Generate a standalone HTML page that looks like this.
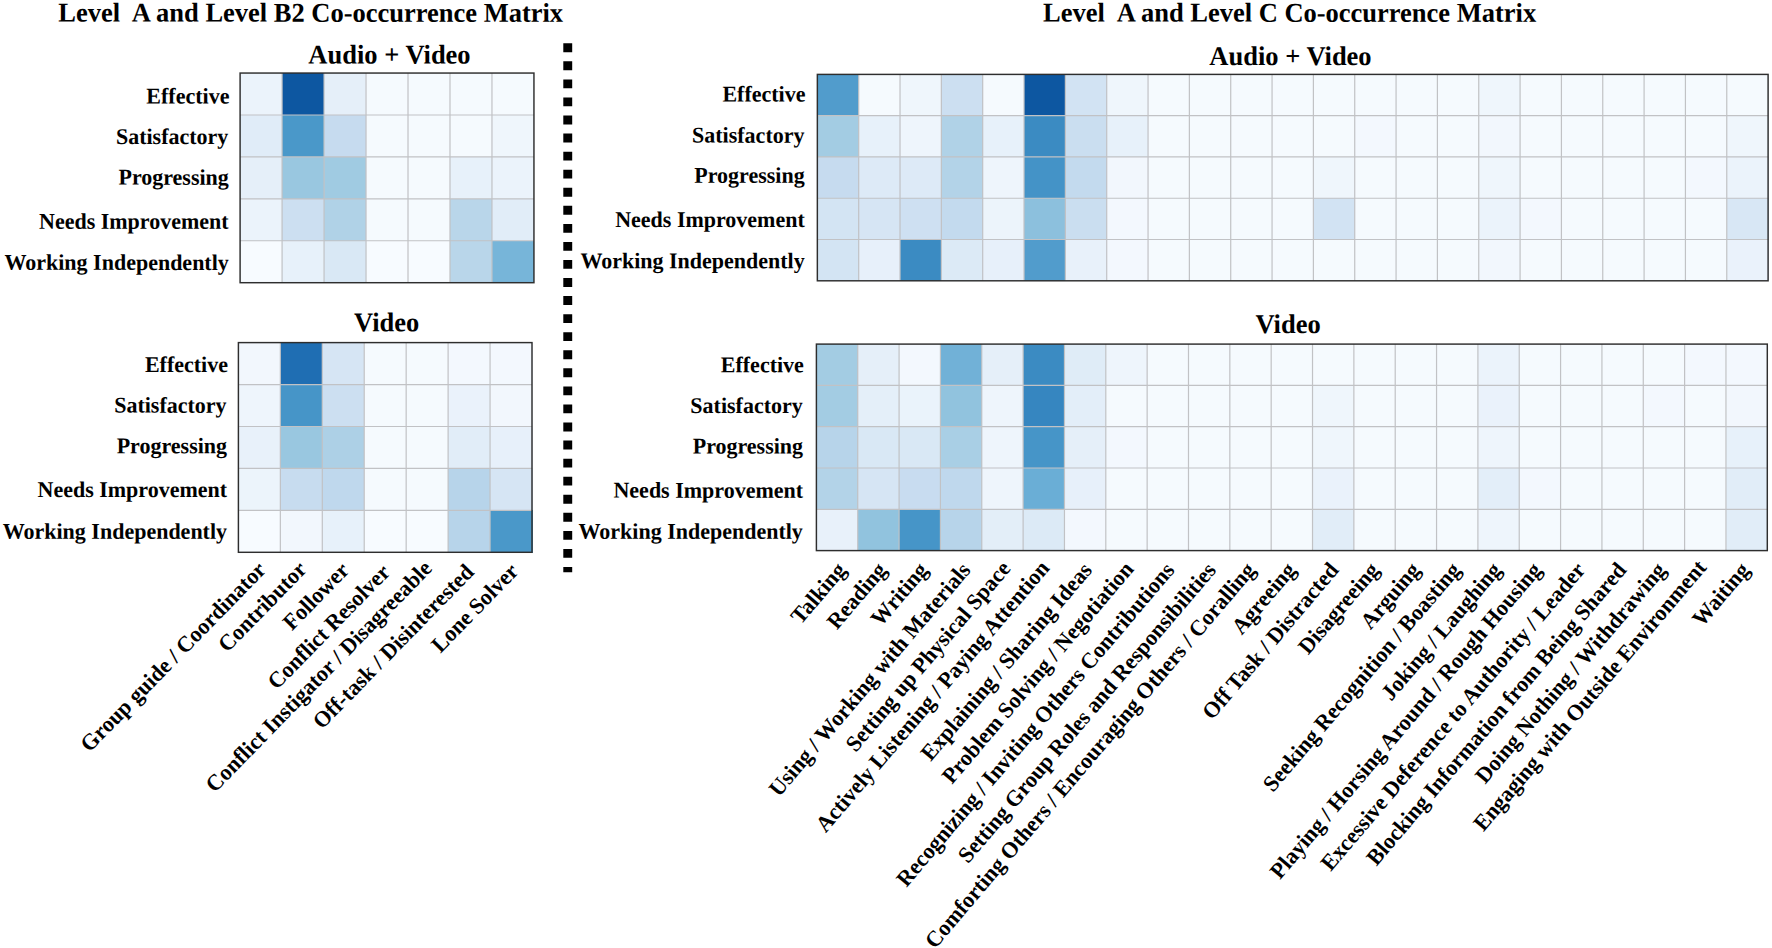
<!DOCTYPE html>
<html lang="en"><head><meta charset="utf-8"><title>Co-occurrence Matrix</title>
<style>html,body{margin:0;padding:0;background:#fff}body{width:1772px;height:948px;overflow:hidden}svg{display:block}text{font-family:"Liberation Serif",serif;font-weight:bold;fill:#000;text-rendering:geometricPrecision}</style></head><body>
<svg width="1772" height="948" viewBox="0 0 1772 948">
<rect width="1772" height="948" fill="#fff"/>
<text transform="matrix(0.9804 0.0006 0 1 58.23 21.50)" font-size="27.03" xml:space="preserve" style="white-space:pre">Level  A and Level B2 Co-occurrence Matrix</text>
<text transform="matrix(0.9804 0.0006 0 1 1043.07 21.50)" font-size="27.03" xml:space="preserve" style="white-space:pre">Level  A and Level C Co-occurrence Matrix</text>
<text transform="matrix(0.9804 0.0006 0 1 308.33 63.50)" font-size="27.03" xml:space="preserve" style="white-space:pre">Audio + Video</text>
<text transform="matrix(0.9804 0.0006 0 1 1209.33 65.00)" font-size="27.03" xml:space="preserve" style="white-space:pre">Audio + Video</text>
<text transform="matrix(0.9804 0.0006 0 1 354.07 331.20)" font-size="27.03" xml:space="preserve" style="white-space:pre">Video</text>
<text transform="matrix(0.9804 0.0006 0 1 1255.42 332.90)" font-size="27.03" xml:space="preserve" style="white-space:pre">Video</text>
<text transform="matrix(0.9804 0.0006 0 1 146.34 103.40)" font-size="22.44" xml:space="preserve" style="white-space:pre">Effective</text>
<text transform="matrix(0.9804 0.0006 0 1 115.91 144.00)" font-size="22.44" xml:space="preserve" style="white-space:pre">Satisfactory</text>
<text transform="matrix(0.9804 0.0006 0 1 118.44 184.60)" font-size="22.44" xml:space="preserve" style="white-space:pre">Progressing</text>
<text transform="matrix(0.9804 0.0006 0 1 39.02 228.70)" font-size="22.44" xml:space="preserve" style="white-space:pre">Needs Improvement</text>
<text transform="matrix(0.9804 0.0006 0 1 4.48 269.80)" font-size="22.44" xml:space="preserve" style="white-space:pre">Working Independently</text>
<text transform="matrix(0.9804 0.0006 0 1 144.94 372.00)" font-size="22.44" xml:space="preserve" style="white-space:pre">Effective</text>
<text transform="matrix(0.9804 0.0006 0 1 114.16 412.60)" font-size="22.44" xml:space="preserve" style="white-space:pre">Satisfactory</text>
<text transform="matrix(0.9804 0.0006 0 1 116.64 453.20)" font-size="22.44" xml:space="preserve" style="white-space:pre">Progressing</text>
<text transform="matrix(0.9804 0.0006 0 1 37.52 496.90)" font-size="22.44" xml:space="preserve" style="white-space:pre">Needs Improvement</text>
<text transform="matrix(0.9804 0.0006 0 1 2.73 538.70)" font-size="22.44" xml:space="preserve" style="white-space:pre">Working Independently</text>
<text transform="matrix(0.9804 0.0006 0 1 722.39 101.50)" font-size="22.44" xml:space="preserve" style="white-space:pre">Effective</text>
<text transform="matrix(0.9804 0.0006 0 1 692.06 142.60)" font-size="22.44" xml:space="preserve" style="white-space:pre">Satisfactory</text>
<text transform="matrix(0.9804 0.0006 0 1 694.29 182.80)" font-size="22.44" xml:space="preserve" style="white-space:pre">Progressing</text>
<text transform="matrix(0.9804 0.0006 0 1 615.17 226.90)" font-size="22.44" xml:space="preserve" style="white-space:pre">Needs Improvement</text>
<text transform="matrix(0.9804 0.0006 0 1 580.38 268.20)" font-size="22.44" xml:space="preserve" style="white-space:pre">Working Independently</text>
<text transform="matrix(0.9804 0.0006 0 1 720.79 372.20)" font-size="22.44" xml:space="preserve" style="white-space:pre">Effective</text>
<text transform="matrix(0.9804 0.0006 0 1 690.36 412.90)" font-size="22.44" xml:space="preserve" style="white-space:pre">Satisfactory</text>
<text transform="matrix(0.9804 0.0006 0 1 692.69 453.50)" font-size="22.44" xml:space="preserve" style="white-space:pre">Progressing</text>
<text transform="matrix(0.9804 0.0006 0 1 613.47 497.60)" font-size="22.44" xml:space="preserve" style="white-space:pre">Needs Improvement</text>
<text transform="matrix(0.9804 0.0006 0 1 578.53 538.70)" font-size="22.44" xml:space="preserve" style="white-space:pre">Working Independently</text>
<path d="M567.75 43.28V572.2" stroke="#000" stroke-width="8.9" stroke-dasharray="8.87 9.19" fill="none"/>
<g shape-rendering="crispEdges">
<rect x="240.10" y="73.05" width="42.48" height="42.43" fill="#ebf3fb"/>
<rect x="282.08" y="73.05" width="42.48" height="42.43" fill="#0d57a1"/>
<rect x="324.06" y="73.05" width="42.48" height="42.43" fill="#e5eff9"/>
<rect x="366.04" y="73.05" width="42.48" height="42.43" fill="#f5fafe"/>
<rect x="408.01" y="73.05" width="42.48" height="42.43" fill="#f5fafe"/>
<rect x="449.99" y="73.05" width="42.48" height="42.43" fill="#f5fafe"/>
<rect x="491.97" y="73.05" width="42.48" height="42.43" fill="#f5fafe"/>
<rect x="240.10" y="114.98" width="42.48" height="42.43" fill="#e0ecf8"/>
<rect x="282.08" y="114.98" width="42.48" height="42.43" fill="#4a98c9"/>
<rect x="324.06" y="114.98" width="42.48" height="42.43" fill="#c6dbef"/>
<rect x="366.04" y="114.98" width="42.48" height="42.43" fill="#f5fafe"/>
<rect x="408.01" y="114.98" width="42.48" height="42.43" fill="#f5fafe"/>
<rect x="449.99" y="114.98" width="42.48" height="42.43" fill="#f5fafe"/>
<rect x="491.97" y="114.98" width="42.48" height="42.43" fill="#eff6fc"/>
<rect x="240.10" y="156.91" width="42.48" height="42.43" fill="#e5eff9"/>
<rect x="282.08" y="156.91" width="42.48" height="42.43" fill="#99c7e0"/>
<rect x="324.06" y="156.91" width="42.48" height="42.43" fill="#a0cbe2"/>
<rect x="366.04" y="156.91" width="42.48" height="42.43" fill="#f5fafe"/>
<rect x="408.01" y="156.91" width="42.48" height="42.43" fill="#f5fafe"/>
<rect x="449.99" y="156.91" width="42.48" height="42.43" fill="#e7f1fa"/>
<rect x="491.97" y="156.91" width="42.48" height="42.43" fill="#ebf3fb"/>
<rect x="240.10" y="198.84" width="42.48" height="42.43" fill="#ebf3fb"/>
<rect x="282.08" y="198.84" width="42.48" height="42.43" fill="#ccdff1"/>
<rect x="324.06" y="198.84" width="42.48" height="42.43" fill="#b0d2e7"/>
<rect x="366.04" y="198.84" width="42.48" height="42.43" fill="#f5fafe"/>
<rect x="408.01" y="198.84" width="42.48" height="42.43" fill="#f5fafe"/>
<rect x="449.99" y="198.84" width="42.48" height="42.43" fill="#b9d6ea"/>
<rect x="491.97" y="198.84" width="42.48" height="42.43" fill="#e1edf8"/>
<rect x="240.10" y="240.77" width="42.48" height="42.43" fill="#f7fbff"/>
<rect x="282.08" y="240.77" width="42.48" height="42.43" fill="#e7f1fa"/>
<rect x="324.06" y="240.77" width="42.48" height="42.43" fill="#d9e8f5"/>
<rect x="366.04" y="240.77" width="42.48" height="42.43" fill="#f7fbff"/>
<rect x="408.01" y="240.77" width="42.48" height="42.43" fill="#f7fbff"/>
<rect x="449.99" y="240.77" width="42.48" height="42.43" fill="#b9d6ea"/>
<rect x="491.97" y="240.77" width="42.48" height="42.43" fill="#77b5d9"/>
</g>
<path d="M282.08 73.05V282.70M324.06 73.05V282.70M366.04 73.05V282.70M408.01 73.05V282.70M449.99 73.05V282.70M491.97 73.05V282.70M240.10 114.98H533.95M240.10 156.91H533.95M240.10 198.84H533.95M240.10 240.77H533.95" stroke="#c1c2c5" stroke-width="1.2" fill="none"/>
<rect x="240.10" y="73.05" width="293.85" height="209.65" fill="none" stroke="#2e2e2e" stroke-width="1.45"/>
<g shape-rendering="crispEdges">
<rect x="238.40" y="342.60" width="42.44" height="42.44" fill="#f2f7fd"/>
<rect x="280.34" y="342.60" width="42.44" height="42.44" fill="#1f6eb3"/>
<rect x="322.29" y="342.60" width="42.44" height="42.44" fill="#d6e5f4"/>
<rect x="364.23" y="342.60" width="42.44" height="42.44" fill="#f5fafe"/>
<rect x="406.17" y="342.60" width="42.44" height="42.44" fill="#f5fafe"/>
<rect x="448.11" y="342.60" width="42.44" height="42.44" fill="#f3f8fe"/>
<rect x="490.06" y="342.60" width="42.44" height="42.44" fill="#f3f8fe"/>
<rect x="238.40" y="384.54" width="42.44" height="42.44" fill="#eef5fc"/>
<rect x="280.34" y="384.54" width="42.44" height="42.44" fill="#4695c8"/>
<rect x="322.29" y="384.54" width="42.44" height="42.44" fill="#ccdff1"/>
<rect x="364.23" y="384.54" width="42.44" height="42.44" fill="#f5fafe"/>
<rect x="406.17" y="384.54" width="42.44" height="42.44" fill="#f5fafe"/>
<rect x="448.11" y="384.54" width="42.44" height="42.44" fill="#eaf2fb"/>
<rect x="490.06" y="384.54" width="42.44" height="42.44" fill="#f2f7fd"/>
<rect x="238.40" y="426.48" width="42.44" height="42.44" fill="#e8f1fa"/>
<rect x="280.34" y="426.48" width="42.44" height="42.44" fill="#99c7e0"/>
<rect x="322.29" y="426.48" width="42.44" height="42.44" fill="#add0e6"/>
<rect x="364.23" y="426.48" width="42.44" height="42.44" fill="#f5fafe"/>
<rect x="406.17" y="426.48" width="42.44" height="42.44" fill="#f5fafe"/>
<rect x="448.11" y="426.48" width="42.44" height="42.44" fill="#e1edf8"/>
<rect x="490.06" y="426.48" width="42.44" height="42.44" fill="#e7f0fa"/>
<rect x="238.40" y="468.42" width="42.44" height="42.44" fill="#ecf4fb"/>
<rect x="280.34" y="468.42" width="42.44" height="42.44" fill="#c7dcef"/>
<rect x="322.29" y="468.42" width="42.44" height="42.44" fill="#bfd8ed"/>
<rect x="364.23" y="468.42" width="42.44" height="42.44" fill="#f5fafe"/>
<rect x="406.17" y="468.42" width="42.44" height="42.44" fill="#f5fafe"/>
<rect x="448.11" y="468.42" width="42.44" height="42.44" fill="#b7d4ea"/>
<rect x="490.06" y="468.42" width="42.44" height="42.44" fill="#d6e5f4"/>
<rect x="238.40" y="510.36" width="42.44" height="42.44" fill="#f7fbff"/>
<rect x="280.34" y="510.36" width="42.44" height="42.44" fill="#f2f7fd"/>
<rect x="322.29" y="510.36" width="42.44" height="42.44" fill="#e7f1fa"/>
<rect x="364.23" y="510.36" width="42.44" height="42.44" fill="#f7fbff"/>
<rect x="406.17" y="510.36" width="42.44" height="42.44" fill="#f7fbff"/>
<rect x="448.11" y="510.36" width="42.44" height="42.44" fill="#b7d4ea"/>
<rect x="490.06" y="510.36" width="42.44" height="42.44" fill="#4a98c9"/>
</g>
<path d="M280.34 342.60V552.30M322.29 342.60V552.30M364.23 342.60V552.30M406.17 342.60V552.30M448.11 342.60V552.30M490.06 342.60V552.30M238.40 384.54H532.00M238.40 426.48H532.00M238.40 468.42H532.00M238.40 510.36H532.00" stroke="#c1c2c5" stroke-width="1.2" fill="none"/>
<rect x="238.40" y="342.60" width="293.60" height="209.70" fill="none" stroke="#2e2e2e" stroke-width="1.45"/>
<g shape-rendering="crispEdges">
<rect x="817.35" y="74.40" width="41.84" height="41.78" fill="#519ccc"/>
<rect x="858.69" y="74.40" width="41.84" height="41.78" fill="#f5fafe"/>
<rect x="900.02" y="74.40" width="41.84" height="41.78" fill="#eff6fc"/>
<rect x="941.36" y="74.40" width="41.84" height="41.78" fill="#ccdff1"/>
<rect x="982.70" y="74.40" width="41.84" height="41.78" fill="#f5fafe"/>
<rect x="1024.03" y="74.40" width="41.84" height="41.78" fill="#0d57a1"/>
<rect x="1065.37" y="74.40" width="41.84" height="41.78" fill="#d2e3f3"/>
<rect x="1106.71" y="74.40" width="41.84" height="41.78" fill="#eff6fc"/>
<rect x="1148.05" y="74.40" width="41.84" height="41.78" fill="#f5fafe"/>
<rect x="1189.38" y="74.40" width="41.84" height="41.78" fill="#f5fafe"/>
<rect x="1230.72" y="74.40" width="41.84" height="41.78" fill="#f5fafe"/>
<rect x="1272.06" y="74.40" width="41.84" height="41.78" fill="#f5fafe"/>
<rect x="1313.39" y="74.40" width="41.84" height="41.78" fill="#f5fafe"/>
<rect x="1354.73" y="74.40" width="41.84" height="41.78" fill="#f5fafe"/>
<rect x="1396.07" y="74.40" width="41.84" height="41.78" fill="#f5fafe"/>
<rect x="1437.40" y="74.40" width="41.84" height="41.78" fill="#f5fafe"/>
<rect x="1478.74" y="74.40" width="41.84" height="41.78" fill="#eff6fc"/>
<rect x="1520.08" y="74.40" width="41.84" height="41.78" fill="#f5fafe"/>
<rect x="1561.42" y="74.40" width="41.84" height="41.78" fill="#f5fafe"/>
<rect x="1602.75" y="74.40" width="41.84" height="41.78" fill="#f5fafe"/>
<rect x="1644.09" y="74.40" width="41.84" height="41.78" fill="#f5fafe"/>
<rect x="1685.43" y="74.40" width="41.84" height="41.78" fill="#f5fafe"/>
<rect x="1726.76" y="74.40" width="41.84" height="41.78" fill="#f5fafe"/>
<rect x="817.35" y="115.68" width="41.84" height="41.78" fill="#a3cce3"/>
<rect x="858.69" y="115.68" width="41.84" height="41.78" fill="#e7f1fa"/>
<rect x="900.02" y="115.68" width="41.84" height="41.78" fill="#eef5fc"/>
<rect x="941.36" y="115.68" width="41.84" height="41.78" fill="#b0d2e7"/>
<rect x="982.70" y="115.68" width="41.84" height="41.78" fill="#e7f1fa"/>
<rect x="1024.03" y="115.68" width="41.84" height="41.78" fill="#3b8bc2"/>
<rect x="1065.37" y="115.68" width="41.84" height="41.78" fill="#cadef0"/>
<rect x="1106.71" y="115.68" width="41.84" height="41.78" fill="#e7f1fa"/>
<rect x="1148.05" y="115.68" width="41.84" height="41.78" fill="#f5fafe"/>
<rect x="1189.38" y="115.68" width="41.84" height="41.78" fill="#f5fafe"/>
<rect x="1230.72" y="115.68" width="41.84" height="41.78" fill="#f5fafe"/>
<rect x="1272.06" y="115.68" width="41.84" height="41.78" fill="#f5fafe"/>
<rect x="1313.39" y="115.68" width="41.84" height="41.78" fill="#f5fafe"/>
<rect x="1354.73" y="115.68" width="41.84" height="41.78" fill="#f3f8fe"/>
<rect x="1396.07" y="115.68" width="41.84" height="41.78" fill="#f5fafe"/>
<rect x="1437.40" y="115.68" width="41.84" height="41.78" fill="#f5fafe"/>
<rect x="1478.74" y="115.68" width="41.84" height="41.78" fill="#f2f7fd"/>
<rect x="1520.08" y="115.68" width="41.84" height="41.78" fill="#f5fafe"/>
<rect x="1561.42" y="115.68" width="41.84" height="41.78" fill="#f5fafe"/>
<rect x="1602.75" y="115.68" width="41.84" height="41.78" fill="#f5fafe"/>
<rect x="1644.09" y="115.68" width="41.84" height="41.78" fill="#f5fafe"/>
<rect x="1685.43" y="115.68" width="41.84" height="41.78" fill="#f5fafe"/>
<rect x="1726.76" y="115.68" width="41.84" height="41.78" fill="#eff6fc"/>
<rect x="817.35" y="156.96" width="41.84" height="41.78" fill="#c6dbef"/>
<rect x="858.69" y="156.96" width="41.84" height="41.78" fill="#ddeaf7"/>
<rect x="900.02" y="156.96" width="41.84" height="41.78" fill="#ddeaf7"/>
<rect x="941.36" y="156.96" width="41.84" height="41.78" fill="#b3d3e8"/>
<rect x="982.70" y="156.96" width="41.84" height="41.78" fill="#eef5fc"/>
<rect x="1024.03" y="156.96" width="41.84" height="41.78" fill="#4493c7"/>
<rect x="1065.37" y="156.96" width="41.84" height="41.78" fill="#c3daee"/>
<rect x="1106.71" y="156.96" width="41.84" height="41.78" fill="#f2f7fd"/>
<rect x="1148.05" y="156.96" width="41.84" height="41.78" fill="#f5fafe"/>
<rect x="1189.38" y="156.96" width="41.84" height="41.78" fill="#f5fafe"/>
<rect x="1230.72" y="156.96" width="41.84" height="41.78" fill="#f5fafe"/>
<rect x="1272.06" y="156.96" width="41.84" height="41.78" fill="#f5fafe"/>
<rect x="1313.39" y="156.96" width="41.84" height="41.78" fill="#eff6fc"/>
<rect x="1354.73" y="156.96" width="41.84" height="41.78" fill="#f5fafe"/>
<rect x="1396.07" y="156.96" width="41.84" height="41.78" fill="#f5fafe"/>
<rect x="1437.40" y="156.96" width="41.84" height="41.78" fill="#f5fafe"/>
<rect x="1478.74" y="156.96" width="41.84" height="41.78" fill="#eff6fc"/>
<rect x="1520.08" y="156.96" width="41.84" height="41.78" fill="#f5fafe"/>
<rect x="1561.42" y="156.96" width="41.84" height="41.78" fill="#f5fafe"/>
<rect x="1602.75" y="156.96" width="41.84" height="41.78" fill="#f5fafe"/>
<rect x="1644.09" y="156.96" width="41.84" height="41.78" fill="#f5fafe"/>
<rect x="1685.43" y="156.96" width="41.84" height="41.78" fill="#f3f8fe"/>
<rect x="1726.76" y="156.96" width="41.84" height="41.78" fill="#ebf3fb"/>
<rect x="817.35" y="198.24" width="41.84" height="41.78" fill="#d3e4f3"/>
<rect x="858.69" y="198.24" width="41.84" height="41.78" fill="#d6e5f4"/>
<rect x="900.02" y="198.24" width="41.84" height="41.78" fill="#cee0f2"/>
<rect x="941.36" y="198.24" width="41.84" height="41.78" fill="#c3daee"/>
<rect x="982.70" y="198.24" width="41.84" height="41.78" fill="#ecf4fb"/>
<rect x="1024.03" y="198.24" width="41.84" height="41.78" fill="#8cc0dd"/>
<rect x="1065.37" y="198.24" width="41.84" height="41.78" fill="#cadef0"/>
<rect x="1106.71" y="198.24" width="41.84" height="41.78" fill="#f3f8fe"/>
<rect x="1148.05" y="198.24" width="41.84" height="41.78" fill="#f5fafe"/>
<rect x="1189.38" y="198.24" width="41.84" height="41.78" fill="#f5fafe"/>
<rect x="1230.72" y="198.24" width="41.84" height="41.78" fill="#f5fafe"/>
<rect x="1272.06" y="198.24" width="41.84" height="41.78" fill="#f5fafe"/>
<rect x="1313.39" y="198.24" width="41.84" height="41.78" fill="#d2e3f3"/>
<rect x="1354.73" y="198.24" width="41.84" height="41.78" fill="#f5fafe"/>
<rect x="1396.07" y="198.24" width="41.84" height="41.78" fill="#f5fafe"/>
<rect x="1437.40" y="198.24" width="41.84" height="41.78" fill="#f5fafe"/>
<rect x="1478.74" y="198.24" width="41.84" height="41.78" fill="#ebf3fb"/>
<rect x="1520.08" y="198.24" width="41.84" height="41.78" fill="#f3f8fe"/>
<rect x="1561.42" y="198.24" width="41.84" height="41.78" fill="#f5fafe"/>
<rect x="1602.75" y="198.24" width="41.84" height="41.78" fill="#f5fafe"/>
<rect x="1644.09" y="198.24" width="41.84" height="41.78" fill="#f5fafe"/>
<rect x="1685.43" y="198.24" width="41.84" height="41.78" fill="#f5fafe"/>
<rect x="1726.76" y="198.24" width="41.84" height="41.78" fill="#d8e7f5"/>
<rect x="817.35" y="239.52" width="41.84" height="41.78" fill="#d3e4f3"/>
<rect x="858.69" y="239.52" width="41.84" height="41.78" fill="#e7f0fa"/>
<rect x="900.02" y="239.52" width="41.84" height="41.78" fill="#3b8bc2"/>
<rect x="941.36" y="239.52" width="41.84" height="41.78" fill="#dceaf6"/>
<rect x="982.70" y="239.52" width="41.84" height="41.78" fill="#e7f0fa"/>
<rect x="1024.03" y="239.52" width="41.84" height="41.78" fill="#519ccc"/>
<rect x="1065.37" y="239.52" width="41.84" height="41.78" fill="#e8f1fa"/>
<rect x="1106.71" y="239.52" width="41.84" height="41.78" fill="#f3f8fe"/>
<rect x="1148.05" y="239.52" width="41.84" height="41.78" fill="#f5fafe"/>
<rect x="1189.38" y="239.52" width="41.84" height="41.78" fill="#f5fafe"/>
<rect x="1230.72" y="239.52" width="41.84" height="41.78" fill="#f5fafe"/>
<rect x="1272.06" y="239.52" width="41.84" height="41.78" fill="#f5fafe"/>
<rect x="1313.39" y="239.52" width="41.84" height="41.78" fill="#f5fafe"/>
<rect x="1354.73" y="239.52" width="41.84" height="41.78" fill="#f5fafe"/>
<rect x="1396.07" y="239.52" width="41.84" height="41.78" fill="#f5fafe"/>
<rect x="1437.40" y="239.52" width="41.84" height="41.78" fill="#f5fafe"/>
<rect x="1478.74" y="239.52" width="41.84" height="41.78" fill="#f2f7fd"/>
<rect x="1520.08" y="239.52" width="41.84" height="41.78" fill="#f5fafe"/>
<rect x="1561.42" y="239.52" width="41.84" height="41.78" fill="#f5fafe"/>
<rect x="1602.75" y="239.52" width="41.84" height="41.78" fill="#f5fafe"/>
<rect x="1644.09" y="239.52" width="41.84" height="41.78" fill="#f5fafe"/>
<rect x="1685.43" y="239.52" width="41.84" height="41.78" fill="#f5fafe"/>
<rect x="1726.76" y="239.52" width="41.84" height="41.78" fill="#eaf2fb"/>
</g>
<path d="M858.69 74.40V280.80M900.02 74.40V280.80M941.36 74.40V280.80M982.70 74.40V280.80M1024.03 74.40V280.80M1065.37 74.40V280.80M1106.71 74.40V280.80M1148.05 74.40V280.80M1189.38 74.40V280.80M1230.72 74.40V280.80M1272.06 74.40V280.80M1313.39 74.40V280.80M1354.73 74.40V280.80M1396.07 74.40V280.80M1437.40 74.40V280.80M1478.74 74.40V280.80M1520.08 74.40V280.80M1561.42 74.40V280.80M1602.75 74.40V280.80M1644.09 74.40V280.80M1685.43 74.40V280.80M1726.76 74.40V280.80M817.35 115.68H1768.10M817.35 156.96H1768.10M817.35 198.24H1768.10M817.35 239.52H1768.10" stroke="#c1c2c5" stroke-width="1.2" fill="none"/>
<rect x="817.35" y="74.40" width="950.75" height="206.40" fill="none" stroke="#2e2e2e" stroke-width="1.45"/>
<g shape-rendering="crispEdges">
<rect x="816.40" y="344.10" width="41.84" height="41.80" fill="#a3cce3"/>
<rect x="857.74" y="344.10" width="41.84" height="41.80" fill="#e5eff9"/>
<rect x="899.09" y="344.10" width="41.84" height="41.80" fill="#f3f8fe"/>
<rect x="940.43" y="344.10" width="41.84" height="41.80" fill="#71b1d7"/>
<rect x="981.77" y="344.10" width="41.84" height="41.80" fill="#e5eff9"/>
<rect x="1023.12" y="344.10" width="41.84" height="41.80" fill="#3b8bc2"/>
<rect x="1064.46" y="344.10" width="41.84" height="41.80" fill="#dfecf7"/>
<rect x="1105.80" y="344.10" width="41.84" height="41.80" fill="#eef5fc"/>
<rect x="1147.15" y="344.10" width="41.84" height="41.80" fill="#f5fafe"/>
<rect x="1188.49" y="344.10" width="41.84" height="41.80" fill="#f5fafe"/>
<rect x="1229.83" y="344.10" width="41.84" height="41.80" fill="#f5fafe"/>
<rect x="1271.18" y="344.10" width="41.84" height="41.80" fill="#f5fafe"/>
<rect x="1312.52" y="344.10" width="41.84" height="41.80" fill="#f5fafe"/>
<rect x="1353.87" y="344.10" width="41.84" height="41.80" fill="#f5fafe"/>
<rect x="1395.21" y="344.10" width="41.84" height="41.80" fill="#f5fafe"/>
<rect x="1436.55" y="344.10" width="41.84" height="41.80" fill="#f5fafe"/>
<rect x="1477.90" y="344.10" width="41.84" height="41.80" fill="#ebf3fb"/>
<rect x="1519.24" y="344.10" width="41.84" height="41.80" fill="#f5fafe"/>
<rect x="1560.58" y="344.10" width="41.84" height="41.80" fill="#f5fafe"/>
<rect x="1601.93" y="344.10" width="41.84" height="41.80" fill="#f5fafe"/>
<rect x="1643.27" y="344.10" width="41.84" height="41.80" fill="#f5fafe"/>
<rect x="1684.61" y="344.10" width="41.84" height="41.80" fill="#f3f8fe"/>
<rect x="1725.96" y="344.10" width="41.84" height="41.80" fill="#f3f8fe"/>
<rect x="816.40" y="385.40" width="41.84" height="41.80" fill="#a3cce3"/>
<rect x="857.74" y="385.40" width="41.84" height="41.80" fill="#e4eff9"/>
<rect x="899.09" y="385.40" width="41.84" height="41.80" fill="#eaf3fb"/>
<rect x="940.43" y="385.40" width="41.84" height="41.80" fill="#91c3de"/>
<rect x="981.77" y="385.40" width="41.84" height="41.80" fill="#eef5fc"/>
<rect x="1023.12" y="385.40" width="41.84" height="41.80" fill="#3686c0"/>
<rect x="1064.46" y="385.40" width="41.84" height="41.80" fill="#e3eef9"/>
<rect x="1105.80" y="385.40" width="41.84" height="41.80" fill="#f5fafe"/>
<rect x="1147.15" y="385.40" width="41.84" height="41.80" fill="#f5fafe"/>
<rect x="1188.49" y="385.40" width="41.84" height="41.80" fill="#f5fafe"/>
<rect x="1229.83" y="385.40" width="41.84" height="41.80" fill="#f5fafe"/>
<rect x="1271.18" y="385.40" width="41.84" height="41.80" fill="#f5fafe"/>
<rect x="1312.52" y="385.40" width="41.84" height="41.80" fill="#eff6fc"/>
<rect x="1353.87" y="385.40" width="41.84" height="41.80" fill="#f5fafe"/>
<rect x="1395.21" y="385.40" width="41.84" height="41.80" fill="#f5fafe"/>
<rect x="1436.55" y="385.40" width="41.84" height="41.80" fill="#f5fafe"/>
<rect x="1477.90" y="385.40" width="41.84" height="41.80" fill="#eaf2fb"/>
<rect x="1519.24" y="385.40" width="41.84" height="41.80" fill="#f5fafe"/>
<rect x="1560.58" y="385.40" width="41.84" height="41.80" fill="#f5fafe"/>
<rect x="1601.93" y="385.40" width="41.84" height="41.80" fill="#f5fafe"/>
<rect x="1643.27" y="385.40" width="41.84" height="41.80" fill="#f3f8fe"/>
<rect x="1684.61" y="385.40" width="41.84" height="41.80" fill="#f5fafe"/>
<rect x="1725.96" y="385.40" width="41.84" height="41.80" fill="#f2f7fd"/>
<rect x="816.40" y="426.70" width="41.84" height="41.80" fill="#b7d4ea"/>
<rect x="857.74" y="426.70" width="41.84" height="41.80" fill="#d9e8f5"/>
<rect x="899.09" y="426.70" width="41.84" height="41.80" fill="#d9e8f5"/>
<rect x="940.43" y="426.70" width="41.84" height="41.80" fill="#a9cfe5"/>
<rect x="981.77" y="426.70" width="41.84" height="41.80" fill="#eef5fc"/>
<rect x="1023.12" y="426.70" width="41.84" height="41.80" fill="#4695c8"/>
<rect x="1064.46" y="426.70" width="41.84" height="41.80" fill="#e5eff9"/>
<rect x="1105.80" y="426.70" width="41.84" height="41.80" fill="#f3f8fe"/>
<rect x="1147.15" y="426.70" width="41.84" height="41.80" fill="#f5fafe"/>
<rect x="1188.49" y="426.70" width="41.84" height="41.80" fill="#f5fafe"/>
<rect x="1229.83" y="426.70" width="41.84" height="41.80" fill="#f5fafe"/>
<rect x="1271.18" y="426.70" width="41.84" height="41.80" fill="#f5fafe"/>
<rect x="1312.52" y="426.70" width="41.84" height="41.80" fill="#eff6fc"/>
<rect x="1353.87" y="426.70" width="41.84" height="41.80" fill="#f5fafe"/>
<rect x="1395.21" y="426.70" width="41.84" height="41.80" fill="#f5fafe"/>
<rect x="1436.55" y="426.70" width="41.84" height="41.80" fill="#f5fafe"/>
<rect x="1477.90" y="426.70" width="41.84" height="41.80" fill="#eef5fc"/>
<rect x="1519.24" y="426.70" width="41.84" height="41.80" fill="#f5fafe"/>
<rect x="1560.58" y="426.70" width="41.84" height="41.80" fill="#f5fafe"/>
<rect x="1601.93" y="426.70" width="41.84" height="41.80" fill="#f5fafe"/>
<rect x="1643.27" y="426.70" width="41.84" height="41.80" fill="#f5fafe"/>
<rect x="1684.61" y="426.70" width="41.84" height="41.80" fill="#f5fafe"/>
<rect x="1725.96" y="426.70" width="41.84" height="41.80" fill="#e7f1fa"/>
<rect x="816.40" y="468.00" width="41.84" height="41.80" fill="#b3d3e8"/>
<rect x="857.74" y="468.00" width="41.84" height="41.80" fill="#d6e5f4"/>
<rect x="899.09" y="468.00" width="41.84" height="41.80" fill="#c8dcf0"/>
<rect x="940.43" y="468.00" width="41.84" height="41.80" fill="#bfd8ed"/>
<rect x="981.77" y="468.00" width="41.84" height="41.80" fill="#eef5fc"/>
<rect x="1023.12" y="468.00" width="41.84" height="41.80" fill="#6aaed6"/>
<rect x="1064.46" y="468.00" width="41.84" height="41.80" fill="#e7f0fa"/>
<rect x="1105.80" y="468.00" width="41.84" height="41.80" fill="#f5fafe"/>
<rect x="1147.15" y="468.00" width="41.84" height="41.80" fill="#f5fafe"/>
<rect x="1188.49" y="468.00" width="41.84" height="41.80" fill="#f5fafe"/>
<rect x="1229.83" y="468.00" width="41.84" height="41.80" fill="#f5fafe"/>
<rect x="1271.18" y="468.00" width="41.84" height="41.80" fill="#f5fafe"/>
<rect x="1312.52" y="468.00" width="41.84" height="41.80" fill="#eaf2fb"/>
<rect x="1353.87" y="468.00" width="41.84" height="41.80" fill="#f5fafe"/>
<rect x="1395.21" y="468.00" width="41.84" height="41.80" fill="#f5fafe"/>
<rect x="1436.55" y="468.00" width="41.84" height="41.80" fill="#f5fafe"/>
<rect x="1477.90" y="468.00" width="41.84" height="41.80" fill="#e3eef9"/>
<rect x="1519.24" y="468.00" width="41.84" height="41.80" fill="#f3f8fe"/>
<rect x="1560.58" y="468.00" width="41.84" height="41.80" fill="#f5fafe"/>
<rect x="1601.93" y="468.00" width="41.84" height="41.80" fill="#f5fafe"/>
<rect x="1643.27" y="468.00" width="41.84" height="41.80" fill="#f5fafe"/>
<rect x="1684.61" y="468.00" width="41.84" height="41.80" fill="#f5fafe"/>
<rect x="1725.96" y="468.00" width="41.84" height="41.80" fill="#e1edf8"/>
<rect x="816.40" y="509.30" width="41.84" height="41.80" fill="#e8f1fa"/>
<rect x="857.74" y="509.30" width="41.84" height="41.80" fill="#91c3de"/>
<rect x="899.09" y="509.30" width="41.84" height="41.80" fill="#4695c8"/>
<rect x="940.43" y="509.30" width="41.84" height="41.80" fill="#b7d4ea"/>
<rect x="981.77" y="509.30" width="41.84" height="41.80" fill="#e3eef8"/>
<rect x="1023.12" y="509.30" width="41.84" height="41.80" fill="#dceaf6"/>
<rect x="1064.46" y="509.30" width="41.84" height="41.80" fill="#f3f8fe"/>
<rect x="1105.80" y="509.30" width="41.84" height="41.80" fill="#f5fafe"/>
<rect x="1147.15" y="509.30" width="41.84" height="41.80" fill="#f5fafe"/>
<rect x="1188.49" y="509.30" width="41.84" height="41.80" fill="#f5fafe"/>
<rect x="1229.83" y="509.30" width="41.84" height="41.80" fill="#f5fafe"/>
<rect x="1271.18" y="509.30" width="41.84" height="41.80" fill="#f5fafe"/>
<rect x="1312.52" y="509.30" width="41.84" height="41.80" fill="#e1edf8"/>
<rect x="1353.87" y="509.30" width="41.84" height="41.80" fill="#f5fafe"/>
<rect x="1395.21" y="509.30" width="41.84" height="41.80" fill="#f5fafe"/>
<rect x="1436.55" y="509.30" width="41.84" height="41.80" fill="#f5fafe"/>
<rect x="1477.90" y="509.30" width="41.84" height="41.80" fill="#eef5fc"/>
<rect x="1519.24" y="509.30" width="41.84" height="41.80" fill="#f5fafe"/>
<rect x="1560.58" y="509.30" width="41.84" height="41.80" fill="#f5fafe"/>
<rect x="1601.93" y="509.30" width="41.84" height="41.80" fill="#f5fafe"/>
<rect x="1643.27" y="509.30" width="41.84" height="41.80" fill="#f5fafe"/>
<rect x="1684.61" y="509.30" width="41.84" height="41.80" fill="#f5fafe"/>
<rect x="1725.96" y="509.30" width="41.84" height="41.80" fill="#e1edf8"/>
</g>
<path d="M857.74 344.10V550.60M899.09 344.10V550.60M940.43 344.10V550.60M981.77 344.10V550.60M1023.12 344.10V550.60M1064.46 344.10V550.60M1105.80 344.10V550.60M1147.15 344.10V550.60M1188.49 344.10V550.60M1229.83 344.10V550.60M1271.18 344.10V550.60M1312.52 344.10V550.60M1353.87 344.10V550.60M1395.21 344.10V550.60M1436.55 344.10V550.60M1477.90 344.10V550.60M1519.24 344.10V550.60M1560.58 344.10V550.60M1601.93 344.10V550.60M1643.27 344.10V550.60M1684.61 344.10V550.60M1725.96 344.10V550.60M816.40 385.40H1767.30M816.40 426.70H1767.30M816.40 468.00H1767.30M816.40 509.30H1767.30" stroke="#c1c2c5" stroke-width="1.2" fill="none"/>
<rect x="816.40" y="344.10" width="950.90" height="206.50" fill="none" stroke="#2e2e2e" stroke-width="1.45"/>
<text transform="translate(267.20 570.90) rotate(-45.7) scale(0.9804 1)" font-size="22.54" text-anchor="end">Group guide / Coordinator</text>
<text transform="translate(307.90 570.60) rotate(-45.7) scale(0.9804 1)" font-size="22.54" text-anchor="end">Contributor</text>
<text transform="translate(350.30 571.50) rotate(-45.7) scale(0.9804 1)" font-size="22.54" text-anchor="end">Follower</text>
<text transform="translate(391.25 573.40) rotate(-45.7) scale(0.9804 1)" font-size="22.54" text-anchor="end">Conflict Resolver</text>
<text transform="translate(433.20 569.60) rotate(-45.7) scale(0.9804 1)" font-size="22.54" text-anchor="end">Conflict Instigator / Disagreeable</text>
<text transform="translate(475.20 573.10) rotate(-45.7) scale(0.9804 1)" font-size="22.54" text-anchor="end">Off-task / Disinterested</text>
<text transform="translate(519.70 572.40) rotate(-45.7) scale(0.9804 1)" font-size="22.54" text-anchor="end">Lone Solver</text>
<text transform="translate(847.18 570.60) rotate(-49.7) scale(0.9804 1)" font-size="22.54" text-anchor="end">Talking</text>
<text transform="translate(887.75 570.60) rotate(-49.7) scale(0.9804 1)" font-size="22.54" text-anchor="end">Reading</text>
<text transform="translate(929.01 570.60) rotate(-49.7) scale(0.9804 1)" font-size="22.54" text-anchor="end">Writing</text>
<text transform="translate(971.58 570.60) rotate(-49.7) scale(0.9804 1)" font-size="22.54" text-anchor="end">Using / Working with Materials</text>
<text transform="translate(1011.64 569.10) rotate(-49.7) scale(0.9804 1)" font-size="22.54" text-anchor="end">Setting up Physical Space</text>
<text transform="translate(1050.41 568.60) rotate(-49.7) scale(0.9804 1)" font-size="22.54" text-anchor="end">Actively Listening / Paying Attention</text>
<text transform="translate(1093.17 570.60) rotate(-49.7) scale(0.9804 1)" font-size="22.54" text-anchor="end">Explaining / Sharing Ideas</text>
<text transform="translate(1134.64 569.60) rotate(-49.7) scale(0.9804 1)" font-size="22.54" text-anchor="end">Problem Solving / Negotiation</text>
<text transform="translate(1175.50 570.60) rotate(-49.7) scale(0.9804 1)" font-size="22.54" text-anchor="end">Recognizing / Inviting Others Contributions</text>
<text transform="translate(1217.07 570.60) rotate(-49.7) scale(0.9804 1)" font-size="22.54" text-anchor="end">Setting Group Roles and Responsibilities</text>
<text transform="translate(1256.43 570.60) rotate(-49.7) scale(0.9804 1)" font-size="22.54" text-anchor="end">Comforting Others / Encouraging Others / Coralling</text>
<text transform="translate(1296.95 570.60) rotate(-49.7) scale(0.9804 1)" font-size="22.54" text-anchor="end">Agreeing</text>
<text transform="translate(1339.67 570.60) rotate(-49.7) scale(0.9804 1)" font-size="22.54" text-anchor="end">Off Task / Distracted</text>
<text transform="translate(1380.23 570.60) rotate(-49.7) scale(0.9804 1)" font-size="22.54" text-anchor="end">Disagreeing</text>
<text transform="translate(1421.20 570.60) rotate(-49.7) scale(0.9804 1)" font-size="22.54" text-anchor="end">Arguing</text>
<text transform="translate(1461.56 570.60) rotate(-49.7) scale(0.9804 1)" font-size="22.54" text-anchor="end">Seeking Recognition / Boasting</text>
<text transform="translate(1502.43 570.60) rotate(-49.7) scale(0.9804 1)" font-size="22.54" text-anchor="end">Joking / Laughing</text>
<text transform="translate(1542.59 570.60) rotate(-49.7) scale(0.9804 1)" font-size="22.54" text-anchor="end">Playing / Horsing Around / Rough Housing</text>
<text transform="translate(1586.31 570.60) rotate(-49.7) scale(0.9804 1)" font-size="22.54" text-anchor="end">Excessive Deference to Authority / Leader</text>
<text transform="translate(1627.52 570.60) rotate(-49.7) scale(0.9804 1)" font-size="22.54" text-anchor="end">Blocking Information from Being Shared</text>
<text transform="translate(1666.99 570.60) rotate(-49.7) scale(0.9804 1)" font-size="22.54" text-anchor="end">Doing Nothing / Withdrawing</text>
<text transform="translate(1707.40 568.10) rotate(-49.7) scale(0.9804 1)" font-size="22.54" text-anchor="end">Engaging with Outside Environment</text>
<text transform="translate(1750.62 570.60) rotate(-49.7) scale(0.9804 1)" font-size="22.54" text-anchor="end">Waiting</text>
</svg></body></html>
